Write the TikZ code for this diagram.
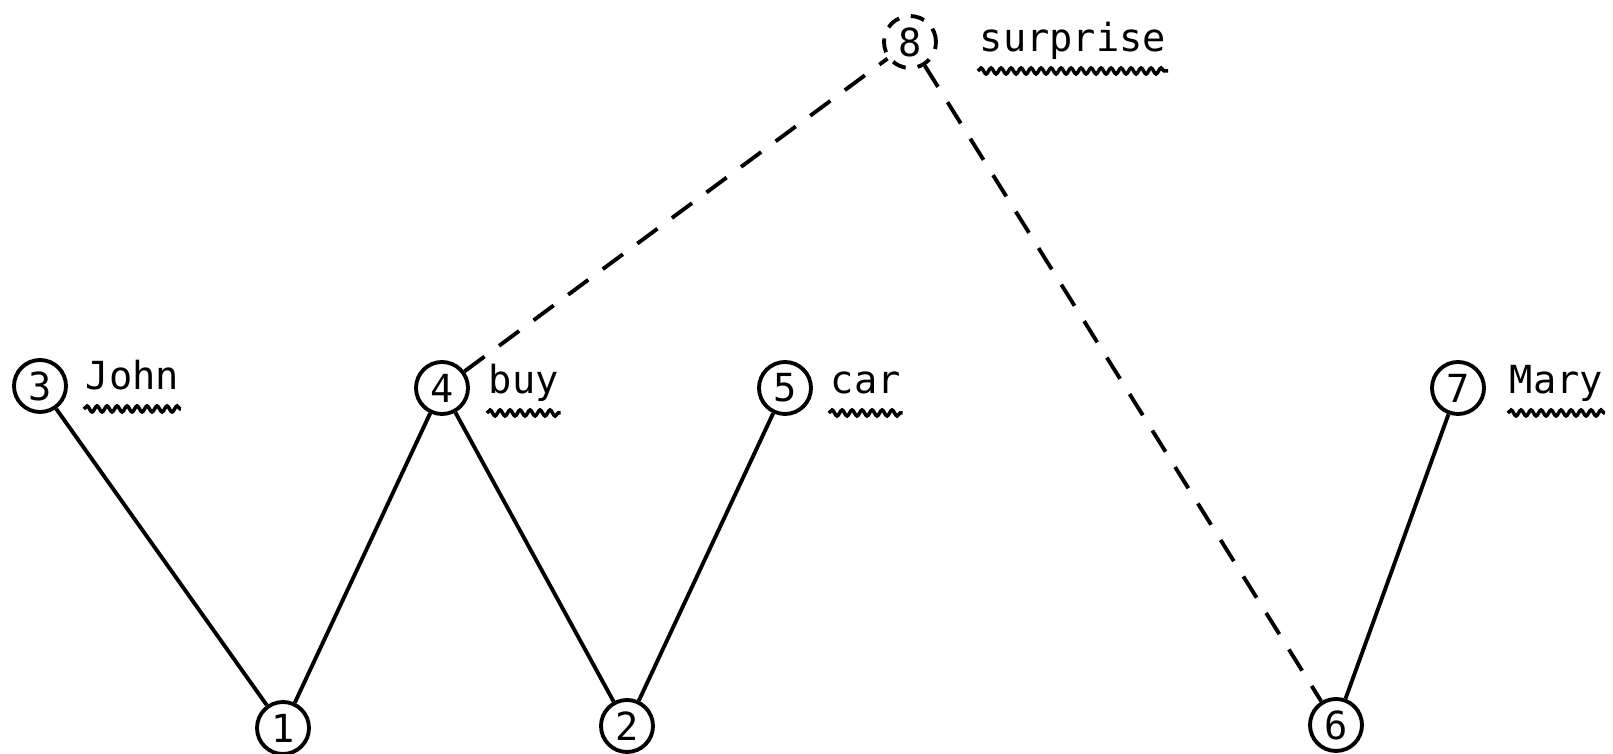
\documentclass[tikz,border=0pt]{standalone}
\usepackage{fontspec}
\setmonofont{DejaVu Sans Mono}
\usetikzlibrary{positioning,decorations.pathmorphing}
\begin{document}
\begin{tikzpicture}[line width=1.1pt,
  word/.style={circle, draw, inner sep=0pt, minimum size=0.52cm, font=\ttfamily\fontsize{11}{13}\selectfont},
  lbl/.style={anchor=base west, inner sep=0pt, font=\ttfamily\fontsize{11}{13}\selectfont},
  wavy/.style={decorate, decoration={snake, amplitude=0.03cm, segment length=0.1cm}, line width=1pt},
  link/.style={dash pattern=on 0.25cm off 0.18cm}]
  \useasboundingbox (0,0) rectangle (16.13,7.54);
  \node[word] (n3) at (0.40,3.68) {3};
  \node[word] (n4) at (4.42,3.66) {4};
  \node[word] (n5) at (7.85,3.66) {5};
  \node[word] (n7) at (14.58,3.66) {7};
  \node[word, dash pattern=on 0.14cm off 0.12cm] (n8) at (9.10,7.12) {8};
  \node[word] (n1) at (2.83,0.26) {1};
  \node[word] (n2) at (6.27,0.28) {2};
  \node[word] (n6) at (13.36,0.29) {6};
  \node[lbl] (john) at ([xshift=0.16cm,yshift=-0.04cm]n3.east) {John};
  \node[lbl] (buy) at ([xshift=0.17cm,yshift=-0.06cm]n4.east) {buy};
  \node[lbl] (car) at ([xshift=0.16cm,yshift=-0.06cm]n5.east) {car};
  \node[lbl] (mary) at ([xshift=0.22cm,yshift=-0.06cm]n7.east) {Mary};
  \node[lbl] (surprise) at ([xshift=0.40cm,yshift=-0.10cm]n8.east) {surprise};
  \foreach \w in {john,buy,car,mary,surprise}
    \draw[wavy] ([yshift=-0.19cm]\w.base west) -- ([yshift=-0.19cm]\w.base east);
  \draw (n3) -- (n1) -- (n4) -- (n2) -- (n5);
  \draw (n6) -- (n7);
  \draw[link] (n4) -- (n8);
  \draw[link] (n8) -- (n6);
\end{tikzpicture}
\end{document}
